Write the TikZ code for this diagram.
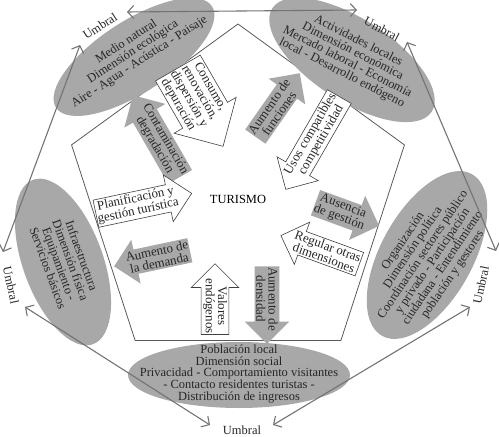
\documentclass[tikz,border=0pt]{standalone}
\usepackage{fontspec}
\setmainfont{Liberation Serif}
\usetikzlibrary{shapes.geometric,shapes.arrows,arrows.meta}
\definecolor{zonegray}{gray}{0.66}
\definecolor{linegray}{gray}{0.45}

\begin{document}
\begin{tikzpicture}[
        x=1bp, y=1bp,
        font=\fontsize{12.5}{12}\selectfont,
        zone/.style={ellipse, fill=zonegray, inner sep=0pt},
        zonetext/.style={align=center, text=black!85, inner sep=0pt},
        flow/.style={
            single arrow,
            single arrow head extend=10bp,
            align=center,
            inner xsep=0.5pt,
            inner ysep=1.5pt,
            text=black!85,
            font=\fontsize{13}{12.3}\selectfont
        },
        whiteflow/.style={flow, draw=black!75, fill=white, line width=0.6pt},
        grayflow/.style={flow, fill=zonegray},
        back/.style={shape border rotate=180},
        limit/.style={draw=linegray, line width=1.1pt,
            arrows={Straight Barb[length=6bp,width=13bp]-Straight Barb[length=6bp,width=13bp]}},
        umbral/.style={inner sep=0pt, text=black!85}
    ]

    \useasboundingbox (0,0) rectangle (499,-437);

    % nucleo
    \node[regular polygon, regular polygon sides=5, minimum size=350bp,
        draw=black!65, line width=0.8pt, inner sep=0pt] (turismo) at (238,-199) {TURISMO};

    % dimensiones
    \node[zone, rotate=33, minimum width=186bp, minimum height=72bp] (natural) at (134,-57) {};
    \node[zone, rotate=-33, minimum width=190bp, minimum height=82bp] (economica) at (352,-60) {};
    \node[zone, rotate=61, minimum width=185bp, minimum height=92bp] (politica) at (427,-255) {};
    \node[zone, rotate=-70, minimum width=175bp, minimum height=80bp] (fisica) at (63,-262) {};
    \node[zone, minimum width=222bp, minimum height=66bp] (social) at (239,-375) {};

    \node[zonetext, rotate=33] (natural-t) at (133,-52) {Medio natural\\Dimensión ecológica\\Aire - Agua - Acústica - Paisaje};
    \node[zonetext, rotate=-27] (economica-t) at (350,-57) {Actividades locales\\Dimensión económica\\Mercado laboral - Economía\\local - Desarrollo endógeno};
    \node[zonetext, rotate=56] (politica-t) at (428,-258) {Organización\\Dimensión política\\Coordinación sectores público\\y privado - Participación\\ciudadana - Entendimiento\\población y gestores};
    \node[zonetext, rotate=-70] (fisica-t) at (65,-262) {Infraestructura\\Dimensión física\\Equipamiento -\\Servicios básicos};
    \node[zonetext] (social-t) at (239,-374) {Población local\\Dimensión social\\Privacidad - Comportamiento visitantes\\- Contacto residentes turistas -\\Distribución de ingresos};

    % flujos
    \node[whiteflow, rotate=-60] (consumo) at (194,-96) {Consumo,\\renovación,\\dispersión y\\depuración};
    \node[grayflow, rotate=-60, back] (contaminacion) at (160,-142) {Contaminación\\degradación};
    \node[grayflow, rotate=55] (funciones) at (274,-110) {Aumento de\\funciones};
    \node[whiteflow, rotate=60, back] (usos) at (316,-137) {Usos compatibles\\competitividad};
    \node[whiteflow, rotate=12] (planificacion) at (137,-205) {Planificación y\\gestión turística};
    \node[grayflow, rotate=12, back] (demanda) at (158,-257) {Aumento de\\la demanda};
    \node[grayflow, rotate=-20] (gestion) at (341,-212) {Ausencia\\de gestión};
    \node[whiteflow, rotate=-20, back] (regular) at (326,-252) {Regular otras\\dimensiones};
    \node[whiteflow, rotate=-90, back] (valores) at (215,-306) {Valores\\endógenos};
    \node[grayflow, rotate=-90] (densidad) at (267,-299) {Aumento de\\densidad};

    % umbrales
    \node[umbral, rotate=33] (u-nw) at (100,-26) {Umbral};
    \node[umbral, rotate=-28] (u-ne) at (382,-29) {Umbral};
    \node[umbral, rotate=78] (u-e) at (481,-285) {Umbral};
    \node[umbral] (u-s) at (242,-430) {Umbral};
    \node[umbral, rotate=-78] (u-w) at (11,-285) {Umbral};

    \coordinate (top-w) at (127,-12);
    \coordinate (top-e) at (357,-10);
    \coordinate (ne-n) at (407,-42);
    \coordinate (ne-s) at (496,-251);
    \coordinate (se-n) at (470,-307);
    \coordinate (se-s) at (273,-425);
    \coordinate (sw-s) at (210,-425);
    \coordinate (sw-n) at (25,-307);
    \coordinate (nw-s) at (3,-252);
    \coordinate (nw-n) at (80,-45);

    \draw[limit] (top-w) -- (top-e);
    \draw[limit] (ne-n) -- (ne-s);
    \draw[limit] (se-n) -- (se-s);
    \draw[limit] (sw-s) -- (sw-n);
    \draw[limit] (nw-s) -- (nw-n);

\end{tikzpicture}
\end{document}
